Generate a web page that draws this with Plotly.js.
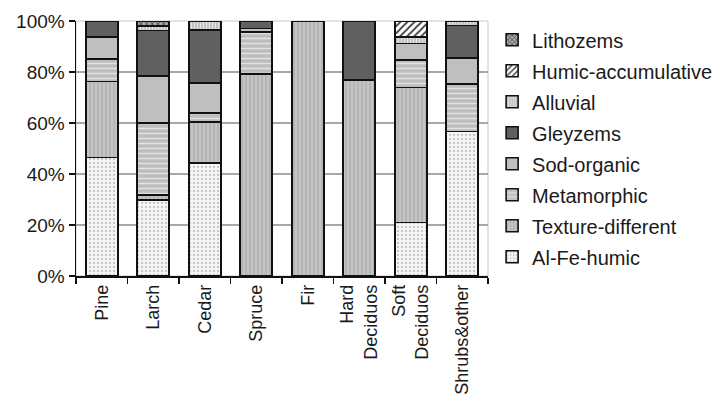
<!DOCTYPE html>
<html>
<head>
<meta charset="utf-8">
<script src="https://cdn.plot.ly/plotly-3.0.1.min.js"></script>
<style>html,body{margin:0;padding:0;background:#fff;}#chart{width:723px;height:410px;}</style>
</head>
<body>
<div id="chart"></div>
<script>
// Categories (x-axis tick labels)
const categories = ["Pine", "Larch", "Cedar", "Spruce", "Fir", "Hard<br>Deciduos", "Soft<br>Deciduos", "Shrubs&other"];

// Series values (% share), stacked bottom to top
const alFeHumic         = [46.4, 29.8, 44.2, 0,    0,   0,    21.0, 56.6];
const textureDifferent  = [29.8, 2.0,  16.3, 79.2, 100, 76.9, 52.9, 0];
const metamorphic       = [8.8,  28.3, 3.5,  16.6, 0,   0,    10.8, 18.6];
const sodOrganic        = [8.8,  18.3, 11.8, 1.3,  0,   0,    6.5,  10.2];
const gleyzems          = [6.2,  17.8, 20.7, 2.9,  0,   23.1, 0,    12.8];
const alluvial          = [0,    1.8,  3.5,  0,    0,   0,    2.6,  1.8];
const humicAccumulative = [0,    0,    0,    0,    0,   0,    6.2,  0];
const lithozems         = [0,    2.0,  0,    0,    0,   0,    0,    0];

const seriesNames = ["Al-Fe-humic", "Texture-different", "Metamorphic", "Sod-organic", "Gleyzems", "Alluvial", "Humic-accumulative", "Lithozems"];
const seriesValues = [alFeHumic, textureDifferent, metamorphic, sodOrganic, gleyzems, alluvial, humicAccumulative, lithozems];

const styles = [
  {color: "#f6f6f6", pattern: {shape: ".", fgcolor: "#c4c4c4", bgcolor: "#f6f6f6", size: 4, solidity: 0.25}},
  {color: "#bcbcbc", pattern: {shape: "|", fgcolor: "#acacac", bgcolor: "#c4c4c4", size: 4, solidity: 0.3}},
  {color: "#c6c6c6", pattern: {shape: "-", fgcolor: "#e2e2e2", bgcolor: "#bdbdbd", size: 5, solidity: 0.3}},
  {color: "#bfbfbf", pattern: null},
  {color: "#606060", pattern: null},
  {color: "#c8c8c8", pattern: {shape: "|", fgcolor: "#e6e6e6", bgcolor: "#c4c4c4", size: 3, solidity: 0.3}},
  {color: "#ffffff", pattern: {shape: "/", fgcolor: "#3a3a3a", bgcolor: "#ffffff", size: 5, solidity: 0.35}},
  {color: "#888888", pattern: {shape: "x", fgcolor: "#222222", bgcolor: "#aaaaaa", size: 4, solidity: 0.3}}
];

const traces = seriesNames.map((name, i) => {
  const marker = {color: styles[i].color, line: {color: "#111", width: 1.6}};
  if (styles[i].pattern) marker.pattern = styles[i].pattern;
  return {
    type: "bar",
    name: name,
    x: categories,
    y: seriesValues[i],
    marker: marker,
    legendgroup: "g" + i,
    legendrank: (seriesNames.length - i) * 100,
    hoverinfo: "x+y+name"
  };
});

const layout = {
  width: 723,
  height: 410,
  margin: {l: 76, r: 235, t: 21, b: 134, autoexpand: false},
  paper_bgcolor: "#ffffff",
  plot_bgcolor: "#ffffff",
  barmode: "stack",
  bargap: 0.38,
  font: {family: "Liberation Sans, Arial, sans-serif", size: 18, color: "#1a1a1a"},
  showlegend: true,
  legend: {
    x: 1.01, xanchor: "left",
    y: 1.003, yanchor: "top",
    traceorder: "grouped",
    tracegroupgap: 2,
    maxheight: 400,
    font: {size: 20, color: "#1a1a1a"},
    bgcolor: "rgba(0,0,0,0)"
  },
  xaxis: {
    type: "category",
    showline: true, linecolor: "#111", linewidth: 1.5,
    ticks: "outside", tickson: "boundaries", ticklen: 6, tickcolor: "#111", tickwidth: 1.3,
    tickangle: -90,
    tickfont: {size: 18},
    showgrid: false,
    fixedrange: true
  },
  yaxis: {
    range: [0, 100],
    dtick: 20,
    ticksuffix: "%",
    showline: true, linecolor: "#111", linewidth: 1.5,
    ticks: "outside", ticklen: 6, tickcolor: "#111", tickwidth: 1.3,
    showgrid: true, gridcolor: "#a8a8a8", gridwidth: 1.5,
    zeroline: false,
    tickfont: {size: 19},
    fixedrange: true
  },
  shapes: [
    {type: "rect", xref: "paper", yref: "paper", x0: 0, x1: 1, y0: 0, y1: 1,
     line: {color: "#c8c8c8", width: 1}, layer: "below"}
  ]
};

Plotly.newPlot("chart", traces, layout, {displayModeBar: false, staticPlot: true});
</script>
</body>
</html>
